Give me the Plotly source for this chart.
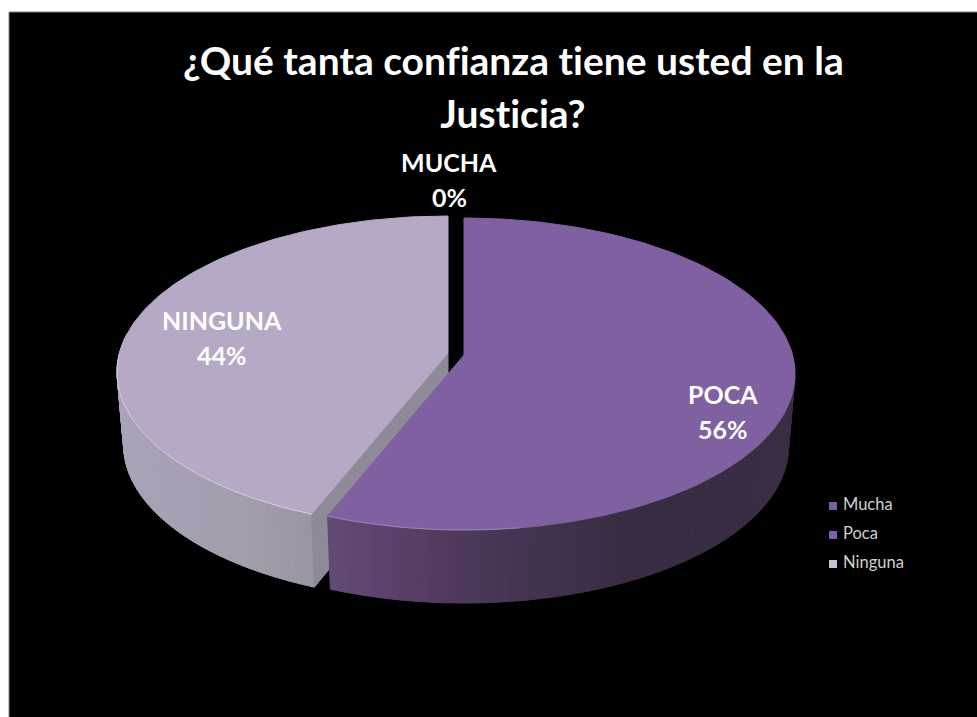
import math
import plotly.graph_objects as go

categories = ["Mucha", "Poca", "Ninguna"]
values = [0, 56, 44]
label_names = ["MUCHA", "POCA", "NINGUNA"]

top_colors = {"Mucha": "#7f60a0", "Poca": "#7f60a0", "Ninguna": "#b5a9c6"}
legend_colors = {"Mucha": "#7a5f9a", "Poca": "#7f60b0", "Ninguna": "#c8c0d4"}
legend_y = {"Mucha": 506, "Poca": 535, "Ninguna": 564}
apex = {"Mucha": (456, 354), "Poca": (464, 355), "Ninguna": (448, 353)}
label_pos = {"Mucha": (449, 162), "Poca": (723, 394), "Ninguna": (222, 320)}

wall_stops = {
    "Poca": [(0.0, "#624a76"), (0.2, "#543c62"), (0.42, "#433450"), (0.65, "#382c42"), (1.0, "#3a2e44")],
    "Ninguna": [(0.0, "#aba3b8"), (0.4, "#a39dac"), (0.7, "#96919d"), (1.0, "#8d8a93")],
}

A, B, K = 328.5, 153.7, 0.1218
DEPTH, BOTTOM_SCALE = 73, 0.98
FONT = "Lato"


def project(origin, theta):
    u, v = math.sin(theta), -math.cos(theta)
    d = 1 - K * v
    return origin[0] + A * u / d, origin[1] + B * v / d


def lower(origin, p):
    return origin[0] + (p[0] - origin[0]) * BOTTOM_SCALE, p[1] + DEPTH


def mix(stops, t):
    for (a, ca), (b, cb) in zip(stops, stops[1:]):
        if t <= b:
            f = (t - a) / (b - a)
            c = [round(int(ca[i:i+2], 16) * (1 - f) + int(cb[i:i+2], 16) * f) for i in (1, 3, 5)]
            return "#%02x%02x%02x" % tuple(c)
    return stops[-1][1]


def poly(xs, ys, color):
    return go.Scatter(x=xs, y=ys, mode="lines", fill="toself", fillcolor=color,
                      line=dict(color=color, width=1), hoverinfo="skip", showlegend=False)


fig = go.Figure()
total = sum(values)
start = 0.0
spans = {}
for c, v in zip(categories, values):
    spans[c] = (start, start + 2 * math.pi * v / total)
    start = spans[c][1]

# Draw Ninguna first, since Poca sits in front of it
for c in ["Ninguna", "Poca"]:
    o = apex[c]
    t0, t1 = spans[c]
    n = 140
    thetas = [t0 + (t1 - t0) * i / n for i in range(n + 1)]
    pts = [project(o, t) for t in thetas]
    lo_x, hi_x = min(x for x, _ in pts), max(x for x, _ in pts)
    for i in range(n):
        p, q = pts[i], pts[i + 1]
        mid = (thetas[i] + thetas[i + 1]) / 2
        if -math.cos(mid) < -0.12:
            continue
        lp, lq = lower(o, p), lower(o, q)
        tt = (min(p[0], q[0]) - lo_x) / (hi_x - lo_x)
        col = mix(wall_stops[c], tt)
        fig.add_trace(poly([p[0], q[0], lq[0], lp[0], p[0]], [p[1], q[1], lq[1], lp[1], p[1]], col))
    if c == "Ninguna":
        e = pts[0]
        lo, le = lower(o, o), lower(o, e)
        fig.add_trace(poly([o[0], e[0], le[0], lo[0], o[0]], [o[1], e[1], le[1], lo[1], o[1]], "#8f8a97"))
    xs = [o[0]] + [p[0] for p in pts] + [o[0]]
    ys = [o[1]] + [p[1] for p in pts] + [o[1]]
    fig.add_trace(poly(xs, ys, top_colors[c]))
    # thin highlight on the rim, near the front-left only
    front = [p for p, t in zip(pts, thetas) if -math.cos(t) > 0 and p[0] < o[0] + 60]
    fig.add_trace(go.Scatter(x=[p[0] for p in front], y=[p[1] for p in front], mode="lines",
                             line=dict(color="#9a84b8" if c == "Poca" else "#d4cde0", width=1),
                             hoverinfo="skip", showlegend=False))

# legend entries, spaced as in the original
for c in categories:
    fig.add_trace(go.Scatter(x=[833], y=[legend_y[c]], mode="markers", hoverinfo="skip", showlegend=False,
                             marker=dict(symbol="square", size=8, color=legend_colors[c])))
    fig.add_trace(go.Scatter(x=[843], y=[legend_y[c]], mode="text", text=[c],
                             textposition="middle right", hoverinfo="skip", showlegend=False,
                             textfont=dict(family=FONT, size=16.5, color="#d0d0d0")))

annotations = []


def text(x, y, s, size):
    annotations.append(dict(x=x, y=y, xref="x", yref="y", text=s, showarrow=False,
                            xanchor="center", yanchor="middle",
                            font=dict(family=FONT, size=size, color="white", weight="bold")))


text(513, 60, "¿Qué tanta confianza tiene usted en la", 39)
text(513, 113, "Justicia?", 39)
for c, name, v in zip(categories, label_names, values):
    x, y = label_pos[c]
    text(x, y, name, 25)
    text(x, y + 35, f"{round(100 * v / total)}%", 25)

fig.update_layout(
    width=977, height=717, margin=dict(l=0, r=0, t=0, b=0),
    paper_bgcolor="white", plot_bgcolor="white",
    xaxis=dict(range=[0, 977], visible=False, fixedrange=True),
    yaxis=dict(range=[717, 0], visible=False, fixedrange=True),
    shapes=[dict(type="rect", xref="x", yref="y", x0=9, x1=990, y0=12, y1=730,
                 fillcolor="black", line=dict(width=1, color="#808080"), layer="below")],
    annotations=annotations,
    showlegend=False,
)
fig.write_html("out.html", config={"displayModeBar": False}, post_script=(
    "document.body.style.margin='0';document.documentElement.style.overflow='hidden';"
    "var s=document.createElement('style');"
    "s.textContent='svg text{font-variant-ligatures:none!important;"
    "font-feature-settings:\"liga\" 0,\"clig\" 0,\"dlig\" 0!important}';document.head.appendChild(s);"))
